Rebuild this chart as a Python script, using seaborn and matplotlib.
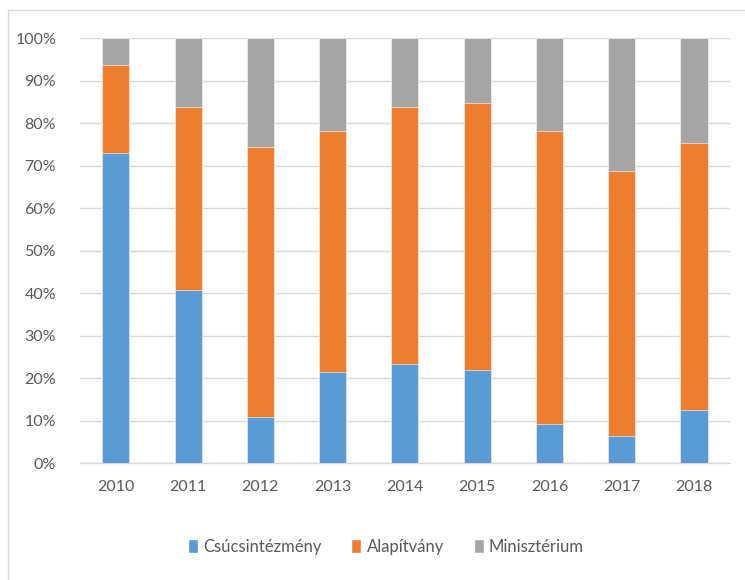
import pandas as pd
import matplotlib.pyplot as plt
from matplotlib.lines import Line2D
from matplotlib.patches import Patch
import seaborn as sns

# shares per year, in percent
years = ['2010', '2011', '2012', '2013', '2014', '2015', '2016', '2017', '2018']
csucs = [72.9, 40.8, 11.0, 21.4, 23.4, 22.0, 9.3, 6.4, 12.5]
alap = [20.8, 43.0, 63.4, 56.8, 60.4, 62.8, 68.9, 62.3, 62.8]
miniszt = [6.3, 16.2, 25.6, 21.8, 16.2, 15.2, 21.8, 31.3, 24.7]
series_names = ['Csúcsintézmény', 'Alapítvány', 'Minisztérium']
colors = ['#5B9BD5', '#ED7D31', '#A5A5A5']

sns.set_style('white')
plt.rcParams['font.family'] = ['Lato', 'DejaVu Sans']

df = pd.DataFrame({'year': years, 'c': csucs, 'a': alap, 'm': miniszt})
df['top_a'] = df['c'] + df['a']
df['top_m'] = df['top_a'] + df['m']

fig = plt.figure(figsize=(7.45, 5.8), dpi=100)
ax = fig.add_axes([0.107, 0.201, 0.873, 0.733])

# draw the stack from the top down so each layer covers the one behind
for col, color in zip(['top_m', 'top_a', 'c'], colors[::-1]):
    sns.barplot(data=df, x='year', y=col, color=color, width=0.375,
                edgecolor='white', linewidth=0.4, saturation=1, ax=ax, zorder=3)

ax.set_ylim(0, 100)
ax.set_xlim(-0.5, len(years) - 0.5)
ax.set_yticks(range(0, 101, 10))
ax.set_yticklabels([f'{v}%' for v in range(0, 101, 10)])
ax.yaxis.grid(True, color='#D9D9D9', linewidth=1.0, zorder=0)
ax.set_axisbelow(True)
for side in ['left', 'right', 'top']:
    ax.spines[side].set_visible(False)
ax.spines['bottom'].set_color('#D9D9D9')
ax.spines['bottom'].set_linewidth(1.0)
ax.set_xlabel('')
ax.set_ylabel('')
ax.tick_params(axis='both', length=0, labelsize=11.5, colors='#595959')
ax.tick_params(axis='y', pad=17)
ax.tick_params(axis='x', pad=12)

handles = [Patch(facecolor=c, label=n) for c, n in zip(colors, series_names)]
fig.legend(handles=handles, loc='center', bbox_to_anchor=(0.518, 0.057), ncol=3,
           frameon=False, fontsize=12, handlelength=0.6, handleheight=0.9,
           handletextpad=0.3, columnspacing=1.8, labelcolor='#595959')

# chart frame (only left and top edges are visible in the original crop)
fig.add_artist(Line2D([8 / 745, 8 / 745], [0, 1 - 10 / 580], transform=fig.transFigure,
                      color='#D9D9D9', linewidth=1.0))
fig.add_artist(Line2D([8 / 745, 1], [1 - 10 / 580, 1 - 10 / 580], transform=fig.transFigure,
                      color='#D9D9D9', linewidth=1.0))

fig.savefig('out.png', dpi=100)
